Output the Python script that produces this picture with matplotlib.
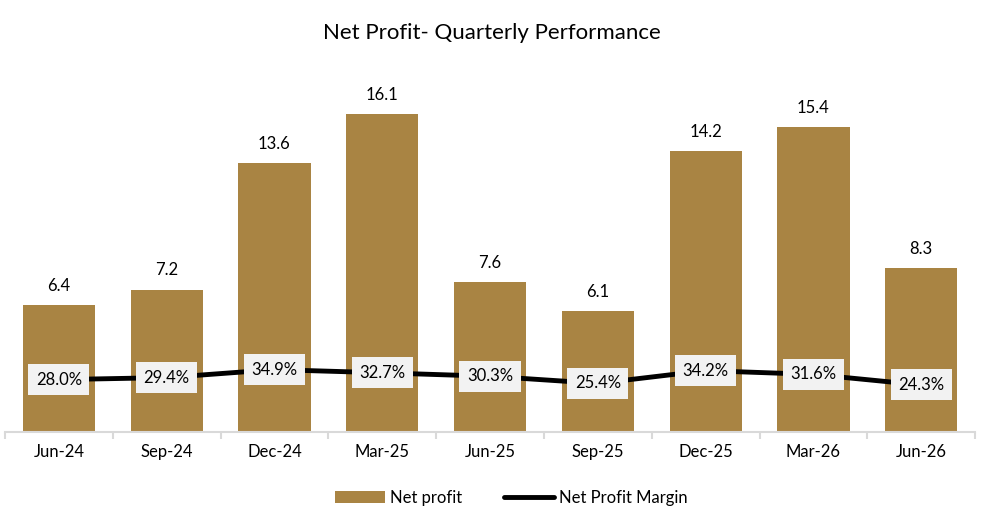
import matplotlib
matplotlib.use("Agg")
import matplotlib.pyplot as plt
import numpy as np

quarters = ["Jun-24", "Sep-24", "Dec-24", "Mar-25", "Jun-25", "Sep-25", "Dec-25", "Mar-26", "Jun-26"]
net_profit = [6.4, 7.2, 13.6, 16.1, 7.6, 6.1, 14.2, 15.4, 8.3]
margin = [28.0, 29.4, 34.9, 32.7, 30.3, 25.4, 34.2, 31.6, 24.3]

plt.rcParams['font.family'] = ['Lato', 'DejaVu Sans']

bar_col = "#A98443"
x = np.arange(len(quarters))

fig = plt.figure(figsize=(9.83, 5.21), dpi=100)
ax = fig.add_axes([0.005, 0.171, 0.987, 0.683])
ax2 = ax.twinx()

bars = ax.bar(x, net_profit, width=0.67, color=bar_col, label="Net profit", zorder=2)
for xi, v in zip(x, net_profit):
    ax.annotate(f"{v:.1f}", (xi, v), xytext=(0, 8), textcoords="offset points",
                ha="center", va="bottom", fontsize=12, color="black")

ax.set_xlim(-0.5, len(quarters) - 0.5)
ax.set_ylim(0, 18)
ax.set_yticks([])
for s in ["top", "left", "right"]:
    ax.spines[s].set_visible(False)
ax.spines["bottom"].set_color("#D9D9D9")
ax.spines["bottom"].set_linewidth(1.5)
ax.set_xticks(x)
ax.set_xticklabels(quarters, fontsize=12)
ax.tick_params(axis="x", which="major", length=0, pad=9)
ax.set_xticks(np.arange(-0.5, len(quarters)), minor=True)
ax.tick_params(axis="x", which="minor", length=5, width=1.5, color="#D9D9D9")

line, = ax2.plot(x, margin, color="black", lw=3.5, label="Net Profit Margin", zorder=3,
                 solid_capstyle="round")
ax2.set_ylim(-8, 237)
ax2.set_yticks([])
for s in ax2.spines.values():
    s.set_visible(False)
for xi, m in zip(x, margin):
    ax2.text(xi, m, f"{m:.1f}%", ha="center", va="center", fontsize=12, zorder=4,
             bbox=dict(boxstyle="square,pad=0.45", fc="#F2F2F2", ec="none"))

fig.suptitle("Net Profit- Quarterly Performance", y=0.955, fontsize=16)

fig.legend(handles=[bars, line], labels=["Net profit", "Net Profit Margin"],
           loc="center", bbox_to_anchor=(0.52, 0.045), ncol=2, frameon=False,
           fontsize=12, handlelength=3, columnspacing=2.5, handletextpad=0.3)

fig.savefig("out.png", dpi=100)
